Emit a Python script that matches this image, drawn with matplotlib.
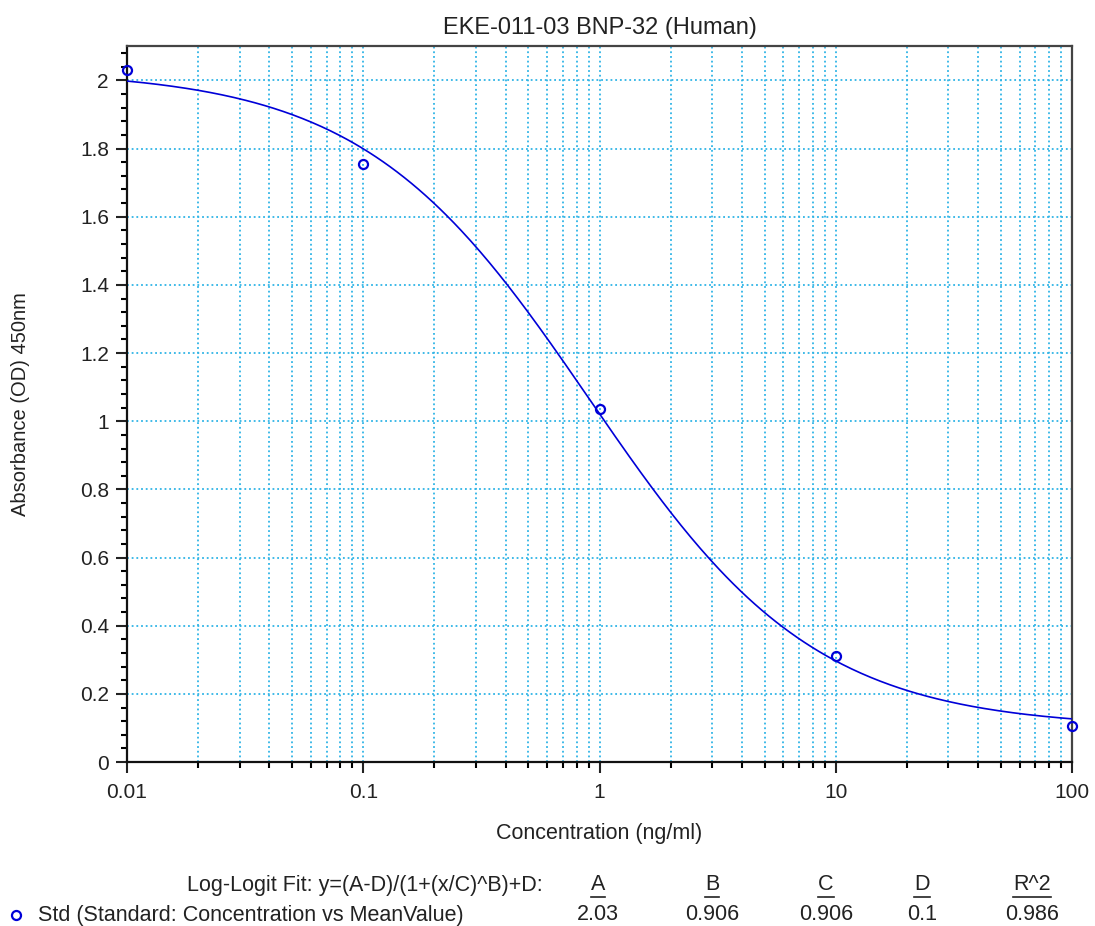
import numpy as np
import matplotlib
matplotlib.use('Agg')
import matplotlib.pyplot as plt
from matplotlib.ticker import MultipleLocator, LogLocator, FuncFormatter

plt.rcParams['font.family'] = ['Liberation Sans', 'DejaVu Sans']

# standards (concentration ng/ml, mean OD)
conc = [0.01, 0.1, 1, 10, 100]
od = [2.03, 1.755, 1.035, 0.31, 0.105]

# log-logit fit parameters shown in the chart
fit_names = ['A', 'B', 'C', 'D', 'R^2']
fit_values = ['2.03', '0.906', '0.906', '0.1', '0.986']
A, B, C, D = 2.03, 0.906, 0.906, 0.1

grid_col = '#2fb4e6'
blue = '#0000d8'
txt = '#222222'

fig = plt.figure(figsize=(10.95, 9.26), dpi=100)
ax = fig.add_axes([0.116, 0.177, 0.863, 0.773])

xs = np.logspace(-2, 2, 400)
ys = (A - D) / (1 + (xs / C) ** B) + D
ax.plot(xs, ys, color=blue, lw=1.2, zorder=3)
ax.plot(conc, od, 'o', mfc='none', mec=blue, ms=6.5, mew=1.6, zorder=4, clip_on=False)

ax.set_xscale('log')
ax.set_xlim(0.01, 100)
ax.set_ylim(0, 2.1)
ax.yaxis.set_major_locator(MultipleLocator(0.2))
ax.yaxis.set_minor_locator(MultipleLocator(0.04))
ax.xaxis.set_major_locator(LogLocator(base=10))
ax.xaxis.set_minor_locator(LogLocator(base=10, subs=np.arange(2, 10)))
fmt = FuncFormatter(lambda v, p: '%g' % round(v, 6))
ax.xaxis.set_major_formatter(fmt)
ax.yaxis.set_major_formatter(fmt)

ax.grid(True, which='major', axis='both', color=grid_col, ls=(0, (1, 1.6)), lw=1.3)
ax.grid(True, which='minor', axis='x', color=grid_col, ls=(0, (1, 1.6)), lw=1.3)
ax.set_axisbelow(True)

ax.tick_params(axis='both', which='major', length=8, width=1.5, labelsize=15,
               colors=txt, pad=7)
ax.tick_params(axis='y', which='major', pad=5)
ax.tick_params(axis='both', which='minor', length=4, width=1.5)
for s in ['left', 'bottom']:
    ax.spines[s].set_linewidth(1.6)
    ax.spines[s].set_color('#111111')
for s in ['top', 'right']:
    ax.spines[s].set_linewidth(1.6)
    ax.spines[s].set_color('#444444')

ax.set_title('EKE-011-03 BNP-32 (Human)', fontsize=17, color=txt, pad=9)
ax.set_xlabel('Concentration (ng/ml)', fontsize=15.5, color=txt)
ax.xaxis.set_label_coords(0.5, -(833 - 762) / (926 * 0.773), transform=ax.transAxes)
ax.xaxis.label.set_va('center')
ax.set_ylabel('Absorbance (OD) 450nm', fontsize=14.5, color=txt)
ax.yaxis.set_label_coords(-(127 - 20) / (1095 * 0.863), 0.5, transform=ax.transAxes)
ax.yaxis.label.set_va('center')

# fit table below the chart
fs = 15.5
fig.text(543 / 1095, 1 - 885 / 926, 'Log-Logit Fit: y=(A-D)/(1+(x/C)^B)+D:',
         ha='right', va='center', fontsize=fs, color=txt)
col_x = [598, 712, 826, 922, 1032]
headers = []
for name, val, cx in zip(fit_names, fit_values, col_x):
    headers.append(fig.text(cx / 1095, 1 - 885 / 926, name, ha='center', va='center',
                            fontsize=fs, color=txt))
    fig.text(cx / 1095, 1 - 915 / 926, val, ha='center', va='center',
             fontsize=fs, color=txt)
fig.text(38 / 1095, 1 - 915 / 926, 'Std (Standard: Concentration vs MeanValue)',
         ha='left', va='center', fontsize=fs, color=txt)
fig.lines.append(plt.Line2D([16 / 1095], [1 - 915 / 926], transform=fig.transFigure,
                            marker='o', mfc='none', mec=blue, ms=6.5, mew=1.6, ls='none'))

# underline the header letters
fig.canvas.draw()
r = fig.canvas.get_renderer()
for t in headers:
    bb = t.get_window_extent(r).transformed(fig.transFigure.inverted())
    yy = bb.y0 - 1 / 926
    fig.lines.append(plt.Line2D([bb.x0, bb.x1], [yy, yy], transform=fig.transFigure,
                                color=txt, lw=1.2))

fig.savefig('out.png', dpi=100)
